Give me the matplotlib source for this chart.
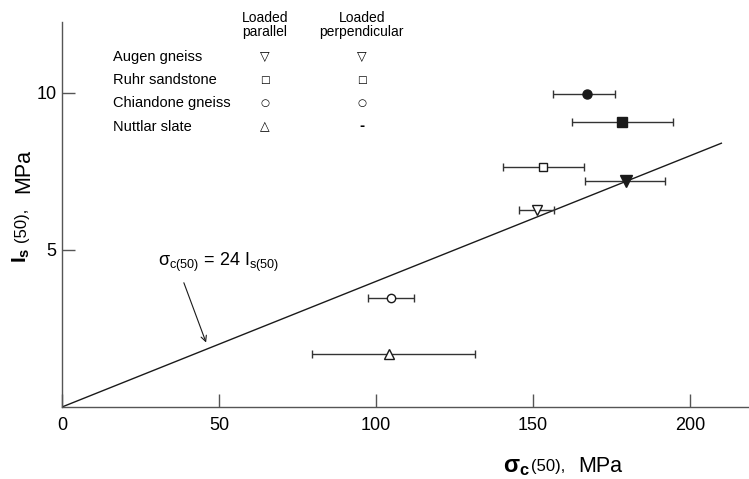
import matplotlib
matplotlib.use('Agg')
import matplotlib.pyplot as plt

plt.rcParams['font.family'] = ['Liberation Sans', 'DejaVu Sans']
plt.rcParams['mathtext.fontset'] = 'custom'
plt.rcParams['mathtext.rm'] = 'Liberation Sans'
plt.rcParams['mathtext.it'] = 'Liberation Sans:italic'
plt.rcParams['mathtext.bf'] = 'Liberation Sans:bold'

# rock types (legend rows)
rocks = ['Augen gneiss', 'Ruhr sandstone', 'Chiandone gneiss', 'Nuttlar slate']
par_symbols = ['\u25bd', '\u25a1', '\u25cb', '\u25b3']
perp_symbols = ['\u25bd', '\u25a1', '\u25cb', '-']
symbol_sizes = [9, 7.5, 7.5, 9]

# loaded parallel: sigma_c(50) mean, min, max and Is(50)
par_x = [151.3, 153.2, 104.8, 104.1]
par_lo = [145.5, 140.4, 97.5, 79.6]
par_hi = [156.7, 166.2, 112.1, 131.5]
par_y = [6.27, 7.64, 3.47, 1.68]
par_markers = ['v', 's', 'o', '^']

# loaded perpendicular (no value for Nuttlar slate)
perp_x = [179.6, 178.3, 167.2]
perp_lo = [166.6, 162.4, 156.4]
perp_hi = [192.0, 194.6, 176.1]
perp_y = [7.20, 9.08, 9.97]
perp_markers = ['v', 's', 'o']

# sigma_c(50) = 24 Is(50) line as drawn
fit_x = [0, 210]
fit_y = [0, 8.4]

fig = plt.figure(figsize=(7.49, 4.79), dpi=100)
ax = fig.add_axes([62/749, 72/479, 687/749, 385/479])
ax.set_xlim(0, 218.8)
ax.set_ylim(0, 12.26)

ax.plot(fit_x, fit_y, color='#1a1a1a', lw=1, zorder=2)

for i in range(len(par_x)):
    ax.errorbar(par_x[i], par_y[i],
                xerr=[[par_x[i] - par_lo[i]], [par_hi[i] - par_x[i]]],
                fmt=par_markers[i], ms=7 if par_markers[i] in 'v^' else 6,
                mfc='white', mec='#1a1a1a', mew=1,
                ecolor='#333333', elinewidth=1, capsize=3, capthick=1, zorder=3)

for i in range(len(perp_x)):
    ax.errorbar(perp_x[i], perp_y[i],
                xerr=[[perp_x[i] - perp_lo[i]], [perp_hi[i] - perp_x[i]]],
                fmt=perp_markers[i], ms=8 if perp_markers[i] == 'v' else 6.5,
                mfc='#1a1a1a', mec='#1a1a1a', mew=1,
                ecolor='#333333', elinewidth=1, capsize=3, capthick=1, zorder=3)

# legend drawn as a small text table
ax.text(64.6, 12.17, 'Loaded\nparallel', ha='center', va='center',
        fontsize=10, linespacing=1.0)
ax.text(95.5, 12.17, 'Loaded\nperpendicular', ha='center', va='center',
        fontsize=10, linespacing=1.0)
row_y = [11.15, 10.41, 9.68, 8.92]
for i in range(len(rocks)):
    ax.text(16.2, row_y[i], rocks[i], ha='left', va='center', fontsize=10.5)
    ax.text(64.6, row_y[i], par_symbols[i], ha='center', va='center',
            fontsize=symbol_sizes[i], family=['DejaVu Sans'])
    ax.text(95.5, row_y[i], perp_symbols[i], ha='center', va='center',
            fontsize=symbol_sizes[i], fontweight='bold', family=['DejaVu Sans'])

# line label with arrow
ax.text(30.6, 4.59, r'$\mathrm{\sigma}_{\mathrm{c(50)}}$ = 24 I$_{\mathrm{s(50)}}$',
        ha='left', va='center', fontsize=13)
ax.annotate('', xy=(46.2, 1.97), xytext=(38.5, 4.04),
            arrowprops=dict(arrowstyle='->', color='#1a1a1a', lw=0.8))

# axes styling
for s in ['top', 'right']:
    ax.spines[s].set_visible(False)
for s in ['left', 'bottom']:
    ax.spines[s].set_color('#555555')
    ax.spines[s].set_linewidth(1)
ax.set_xticks([0, 50, 100, 150, 200])
ax.set_yticks([5, 10])
ax.tick_params(direction='in', length=9.5, width=1, color='#555555', labelsize=13)
ax.tick_params(axis='x', pad=7)
ax.tick_params(axis='y', pad=4)

# x label pieces
fig.text(502.7/749, (479-472)/479, r'$\mathbf{\sigma_c}$', fontsize=17,
         ha='left', va='baseline')
fig.text(530.7/749, (479-470.7)/479, '(50),', fontsize=12, ha='left', va='baseline')
fig.text(578.3/749, (479-471.7)/479, 'MPa', fontsize=15.5, ha='left', va='baseline')

# y label pieces (rotated)
fig.text(27/749, (479-263)/479, r'$\mathbf{I_s}$', fontsize=15, rotation=90,
         rotation_mode='anchor', ha='left', va='baseline')
fig.text(26.5/749, (479-242)/479, '(50),', fontsize=12, rotation=90,
         rotation_mode='anchor', ha='left', va='baseline')
fig.text(29/749, (479-193)/479, 'MPa', fontsize=15.5, rotation=90,
         rotation_mode='anchor', ha='left', va='baseline')

fig.savefig('out.png', dpi=100)
